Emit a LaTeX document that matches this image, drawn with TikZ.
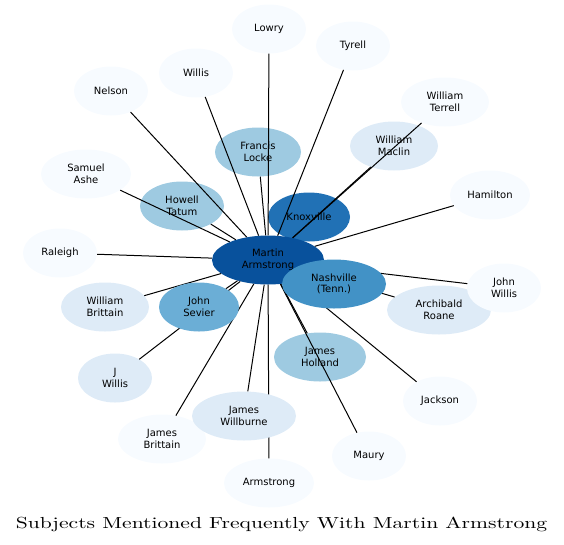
\documentclass[tikz,border=0pt]{standalone}
\usepackage{graphicx}
\usepackage{fontspec}
\newfontfamily\labelfont{DejaVu Sans}
\newfontfamily\titlefont{lmroman10-regular.otf}
\usetikzlibrary{shapes.geometric}
\definecolor{tone0}{RGB}{247,251,255}
\definecolor{tone1}{RGB}{222,235,247}
\definecolor{tone2}{RGB}{158,202,225}
\definecolor{tone3}{RGB}{107,174,214}
\definecolor{tone4}{RGB}{66,146,198}
\definecolor{tone5}{RGB}{33,113,181}
\definecolor{tone6}{RGB}{8,81,156}

\begin{document}
\begin{tikzpicture}[
  x=1pt, y=-1pt,
  font=\labelfont\fontsize{10}{11.7}\selectfont,
  subj/.style={ellipse, inner sep=0pt, align=center, draw=none,
               minimum width=#1, minimum height=49pt},
  subj/.default=74pt,
  link/.style={draw=black, line width=1pt},
]
\useasboundingbox (0,0) rectangle (564,544);

% nodes lying under the links
\node[subj, fill=tone0] (lowry)   at (269,29)  {Lowry};
\node[subj, fill=tone0] (tyrell)  at (353,46)  {Tyrell};
\node[subj, fill=tone0] (willis)  at (196,73)  {Willis};
\node[subj, fill=tone0] (nelson)  at (111,91)  {Nelson};
\node[subj=88pt, fill=tone0] (terrell) at (445,102) {William\\Terrell};
\node[subj=86pt, fill=tone2] (locke)   at (258,152) {Francis\\Locke};
\node[subj=88pt, fill=tone1] (maclin)  at (394,146) {William\\Maclin};
\node[subj=90pt, fill=tone0] (ashe)    at (86,174)  {Samuel\\Ashe};
\node[subj=80pt, fill=tone0] (hamilton)at (490,195) {Hamilton};
\node[subj=84pt, fill=tone2] (tatum)   at (182,206) {Howell\\Tatum};
\node[subj=82pt, fill=tone5] (knox)    at (309,217) {Knoxville};
\node[subj, fill=tone0] (raleigh) at (60,253)  {Raleigh};
\node[subj=112pt, fill=tone6] (martin) at (268,260) {Martin\\Armstrong};
\node[subj=104pt, fill=tone1] (roane)  at (439,310) {Archibald\\Roane};
\node[subj, fill=tone0] (jwillis) at (504,288) {John\\Willis};
\node[subj=88pt, fill=tone1] (wbritt)  at (105,307) {William\\Brittain};
\node[subj=92pt, fill=tone2] (holland) at (320,357) {James\\Holland};
\node[subj, fill=tone1] (jw)      at (115,378) {J\\Willis};
\node[subj, fill=tone0] (jackson) at (440,401) {Jackson};
\node[subj=88pt, fill=tone0] (jbritt)  at (162,439) {James\\Brittain};
\node[subj, fill=tone0] (maury)   at (369,456) {Maury};
\node[subj=90pt, fill=tone0] (armst)   at (269,483) {Armstrong};

% links from the centre
\foreach \t in {lowry, tyrell, willis, nelson, terrell, locke, maclin, ashe,
                hamilton, tatum, raleigh, jwillis, roane, wbritt, holland,
                jw, jackson, jbritt, maury, armst}
  \draw[link] (martin) -- (\t);

% nodes lying over the links
\node[subj=80pt, fill=tone3] (sevier)  at (199,307) {John\\Sevier};
\node[subj=104pt, fill=tone1] (willb)  at (244,416) {James\\Willburne};
\draw[link] (martin) -- (sevier);
\draw[link] (martin) -- (willb);
\node[subj=104pt, fill=tone4] (nash)   at (334,284) {Nashville\\(Tenn.)};

\node[font=\titlefont\fontsize{16}{19}\selectfont, anchor=base, inner sep=0pt]
  (title) at (281.5,528)
  {\scalebox{1.35}[1]{Subjects Mentioned Frequently With Martin Armstrong}};
\end{tikzpicture}
\end{document}
